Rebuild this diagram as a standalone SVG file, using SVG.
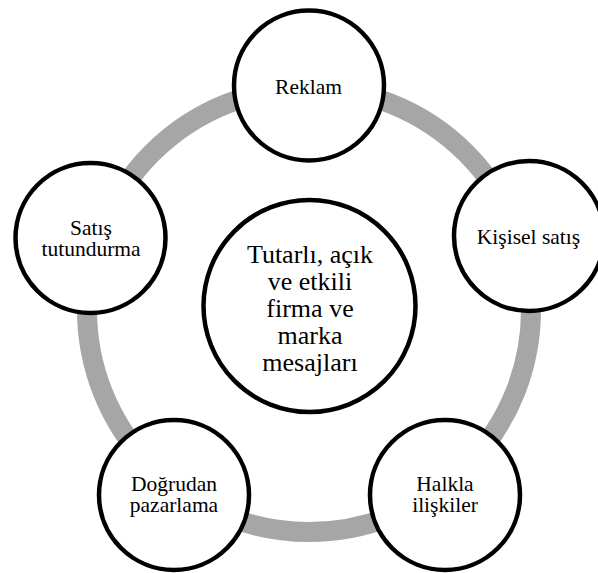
<svg xmlns="http://www.w3.org/2000/svg" width="598" height="573" viewBox="0 0 598 573">
<style>
.node{fill:#ffffff;stroke:#000000;stroke-width:4.5}
.ring{fill:none;stroke:#a6a6a6;stroke-width:20}
text{font-family:"Liberation Serif","Times New Roman",serif;fill:#000000;text-anchor:middle}
.lbl{font-size:21.5px}
.ctr{font-size:26px}
</style>
<rect width="598" height="573" fill="#ffffff"/>
<g id="connectors">
<circle class="ring" cx="309" cy="310" r="222"/>
</g>
<g id="center">
<circle class="node" cx="309.5" cy="306" r="106"/>
<text class="ctr" x="310" y="263">Tutarlı, açık</text>
<text class="ctr" x="310" y="290">ve etkili</text>
<text class="ctr" x="310" y="317">firma ve</text>
<text class="ctr" x="310" y="344">marka</text>
<text class="ctr" x="310" y="371">mesajları</text>
</g>
<g id="reklam">
<circle class="node" cx="309" cy="85.5" r="75"/>
<text class="lbl" x="308.5" y="94">Reklam</text>
</g>
<g id="kisisel">
<circle class="node" cx="529" cy="236" r="75"/>
<text class="lbl" x="528.5" y="244">Kişisel satış</text>
</g>
<g id="satis">
<circle class="node" cx="90.5" cy="238" r="75"/>
<text class="lbl" x="91" y="235">Satış</text>
<text class="lbl" x="91" y="256">tutundurma</text>
</g>
<g id="dogrudan">
<circle class="node" cx="174" cy="495" r="75"/>
<text class="lbl" x="174" y="491">Doğrudan</text>
<text class="lbl" x="174" y="512">pazarlama</text>
</g>
<g id="halkla">
<circle class="node" cx="445" cy="495" r="75"/>
<text class="lbl" x="445" y="491">Halkla</text>
<text class="lbl" x="445" y="512">ilişkiler</text>
</g>
</svg>
